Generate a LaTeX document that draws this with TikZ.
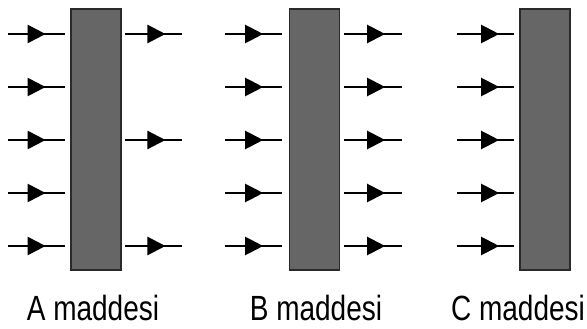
\documentclass[tikz,border=0pt]{standalone}
\usepackage{fontspec}
\setmainfont{Liberation Sans}
\usetikzlibrary{arrows.meta,decorations.markings}
\definecolor{boxgray}{HTML}{666666}
\definecolor{boxedge}{HTML}{2A2A2A}
\tikzset{
  matbox/.style={draw=boxedge, line width=1.2pt, fill=boxgray, minimum width=50pt, minimum height=261pt, inner sep=0pt, outer sep=0pt},
  flow/.style={line width=2.2pt, black, postaction={decorate},
    decoration={markings, mark=at position #1 with {\arrow{Triangle[length=18pt,width=18pt]}}}},
  lbl/.style={anchor=base, font=\fontsize{35}{40}\selectfont, xscale=0.8, inner sep=0pt}
}
\begin{document}
\begin{tikzpicture}[x=1pt,y=-1pt]
\useasboundingbox (0,0) rectangle (587,329);
\node[matbox] (boxA) at (96,139.5) {};
\node[matbox] (boxB) at (314.5,139.5) {};
\node[matbox] (boxC) at (545,139.5) {};
\foreach \i/\y in {1/34,2/87,3/140,4/193,5/246}{
  \coordinate (Ai\i s) at (8,\y); \coordinate (Ai\i e) at (65,\y);
  \draw[flow=0.66] (Ai\i s) -- (Ai\i e);
  \coordinate (Bi\i s) at (225,\y); \coordinate (Bi\i e) at (282,\y);
  \draw[flow=0.67] (Bi\i s) -- (Bi\i e);
  \coordinate (Bo\i s) at (344,\y); \coordinate (Bo\i e) at (402,\y);
  \draw[flow=0.71] (Bo\i s) -- (Bo\i e);
  \coordinate (Ci\i s) at (457,\y); \coordinate (Ci\i e) at (514,\y);
  \draw[flow=0.74] (Ci\i s) -- (Ci\i e);
}
\foreach \i/\y in {1/34,3/140,5/246}{
  \coordinate (Ao\i s) at (125,\y); \coordinate (Ao\i e) at (182,\y);
  \draw[flow=0.71] (Ao\i s) -- (Ao\i e);
}
\node[lbl] (lA) at (93,320) {A maddesi};
\node[lbl] (lB) at (316,320) {B maddesi};
\node[lbl] (lC) at (518,320) {C maddesi};
\end{tikzpicture}
\end{document}
